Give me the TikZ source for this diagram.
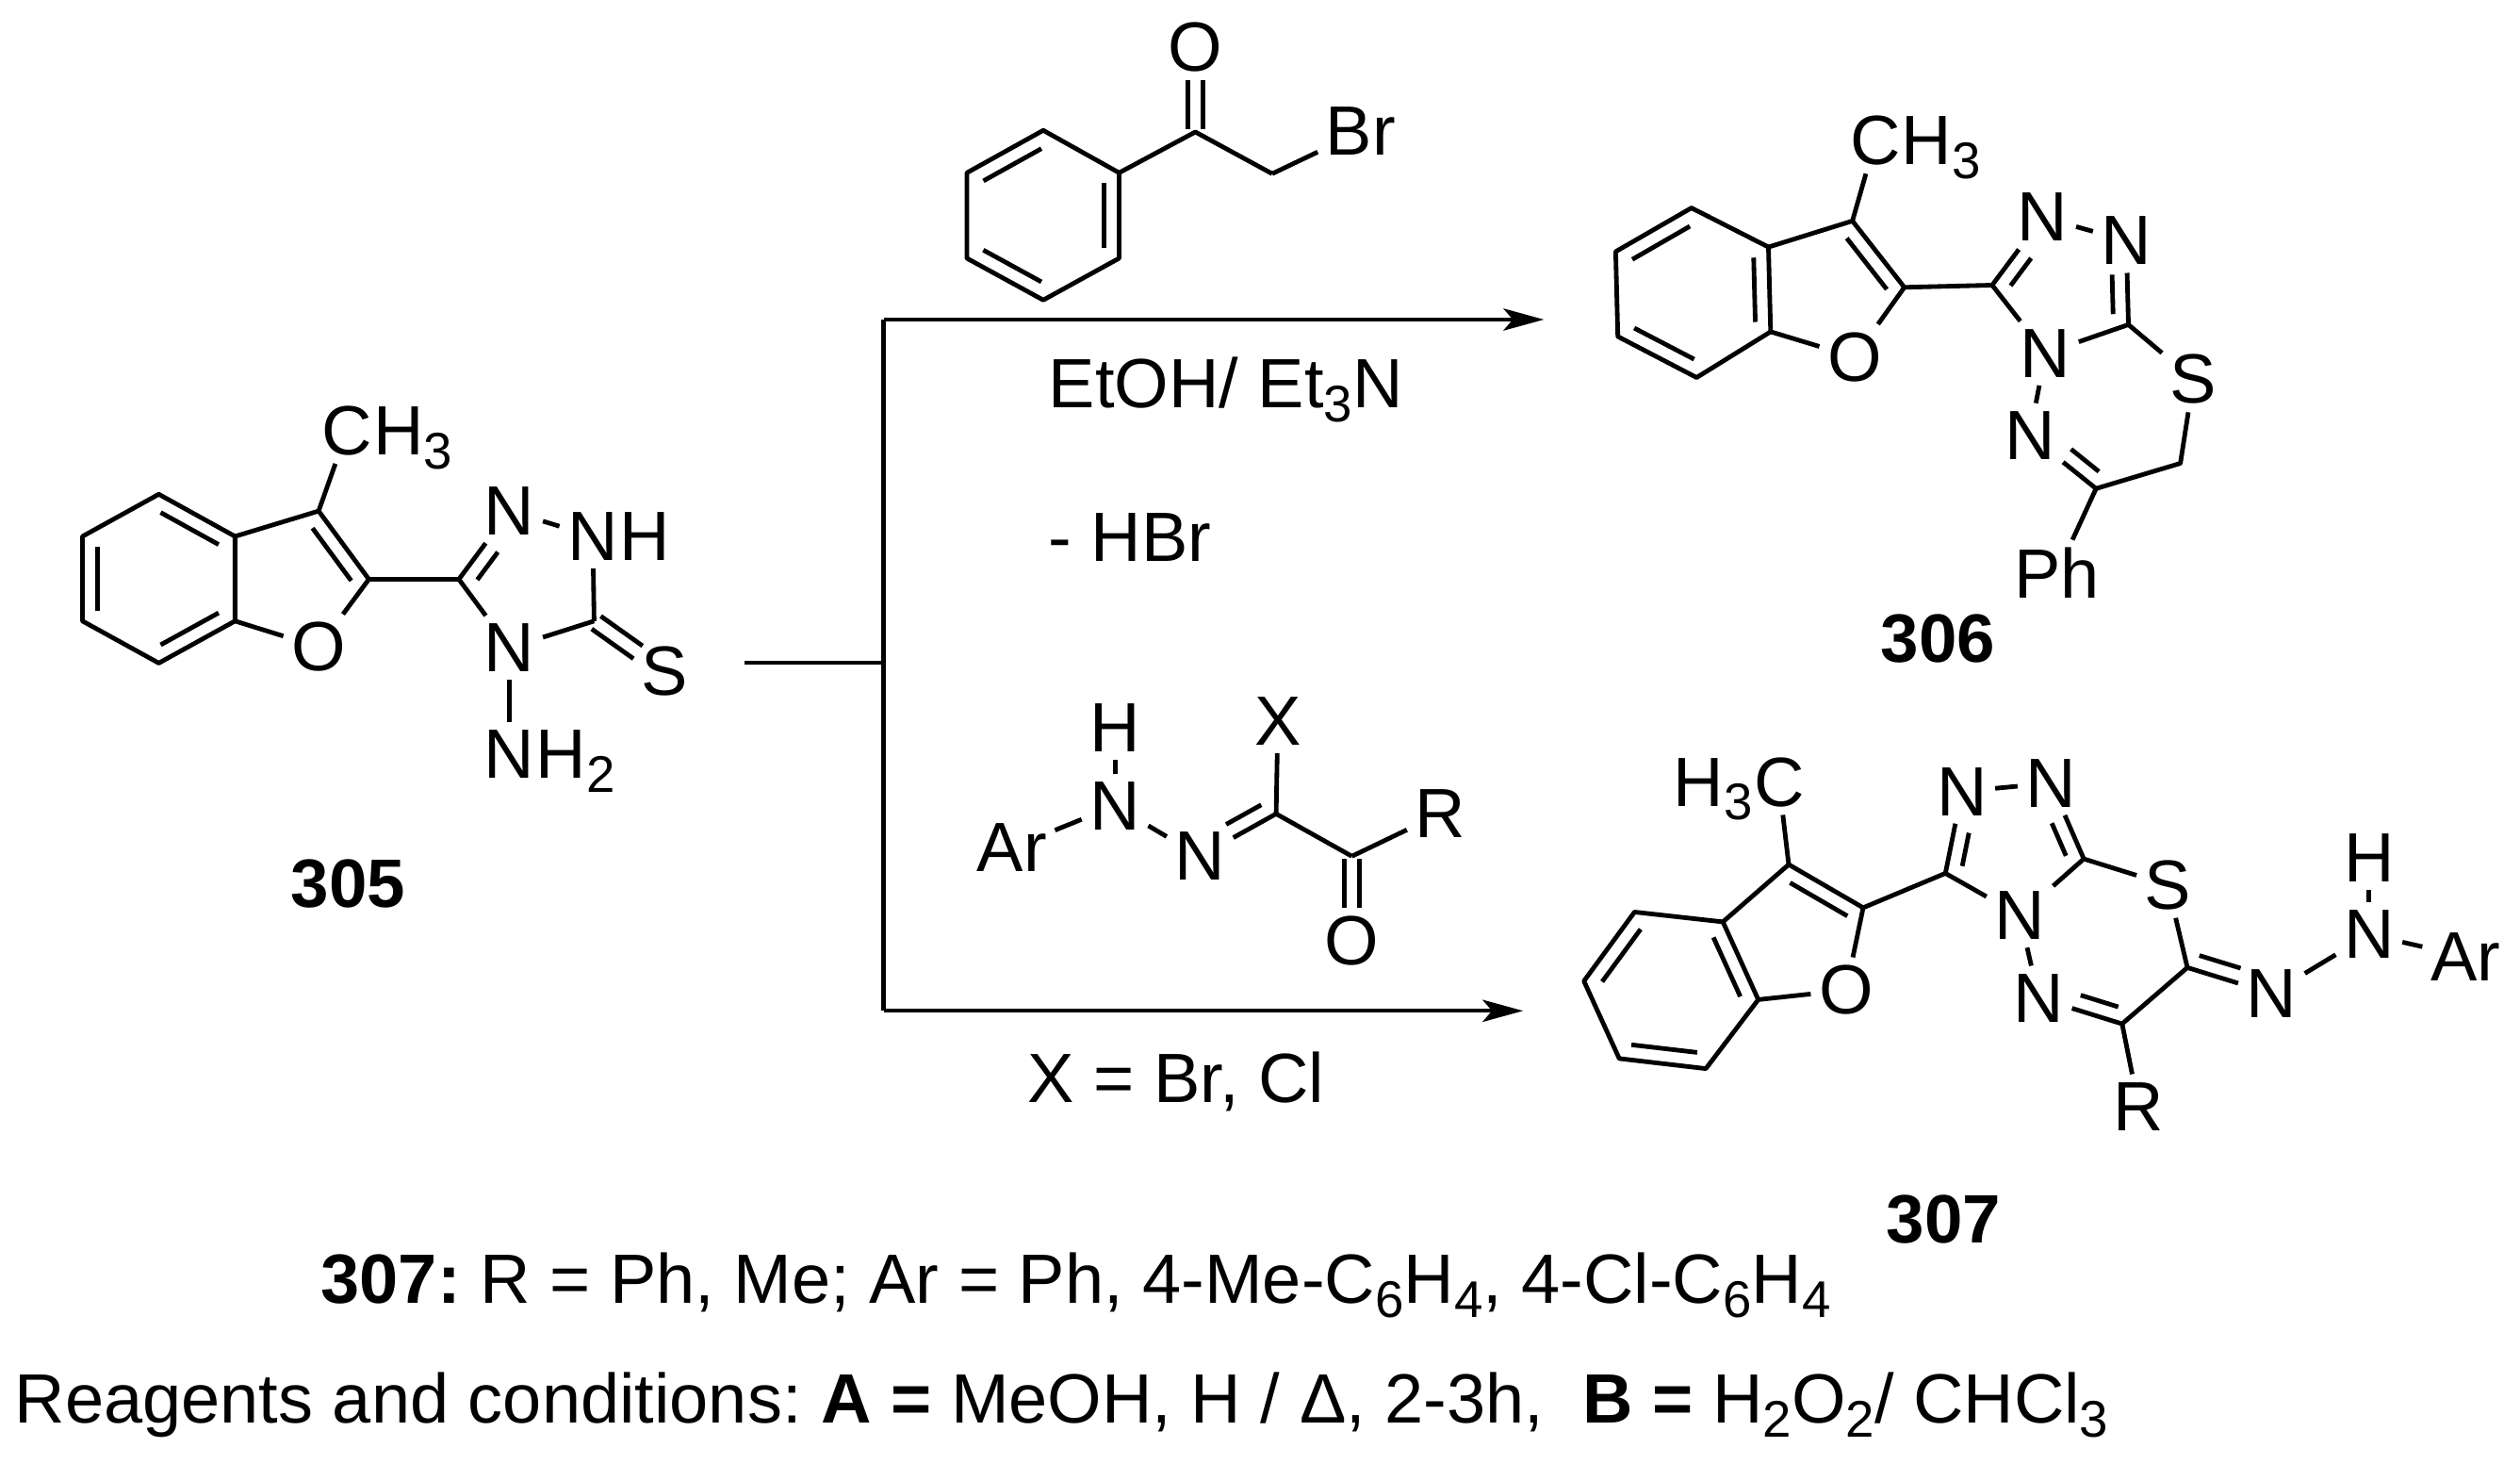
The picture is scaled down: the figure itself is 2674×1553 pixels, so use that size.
\documentclass[tikz,border=0pt]{standalone}
\usepackage{fontspec}
\setmainfont{Liberation Sans}
\usetikzlibrary{calc}
\usetikzlibrary {arrows.meta}
\tikzset{atom/.style={rectangle,draw=none,inner sep=2.4pt,font=\fontsize{22.2pt}{26pt}\selectfont}}
\tikzset{tail/.style={rectangle,draw=none,inner sep=0pt,anchor=base west,xshift=-2.4pt,font=\fontsize{22.2pt}{26pt}\selectfont}}
\tikzset{head/.style={rectangle,draw=none,inner sep=0pt,anchor=base east,xshift=2.4pt,font=\fontsize{22.2pt}{26pt}\selectfont}}
\tikzset{cmpd/.style={rectangle,draw=none,inner sep=0pt,font=\fontsize{21.8pt}{26pt}\selectfont\bfseries}}
\tikzset{txt/.style={rectangle,draw=none,inner sep=0pt,anchor=base west,font=\fontsize{22.2pt}{26pt}\selectfont\frenchspacing}}
\tikzset{bond/.style={line width=1.45pt,line join=round}}
\tikzset{rxn/.style={line width=1.3pt,-{Stealth[length=12.9pt,width=7pt,inset=3pt]}}}
\newcommand{\lowb}[1]{\raisebox{-0.2em}{\fontsize{16.4pt}{19pt}\selectfont #1}}
\newcommand{\inbond}[4]{\draw[bond] ($(#1)!#3!(#2)!4.8pt!90:(#2)$) -- ($(#1)!#4!(#2)!4.8pt!90:(#2)$);}
\newcommand{\symbond}[3]{%
  \draw[bond] ($(#1)!0.03!(#2)!2.5pt!90:(#2)$) -- ($(#1)!#3!(#2)!2.5pt!90:(#2)$);
  \draw[bond] ($(#1)!0.03!(#2)!-2.5pt!90:(#2)$) -- ($(#1)!#3!(#2)!-2.5pt!90:(#2)$);}
\begin{document}
\begin{tikzpicture}[x=0.3pt,y=-0.3pt]
\useasboundingbox (0,0) rectangle (2674,1553);

% 305
\coordinate (sA) at (168.5,524.3);
\coordinate (sB) at (249.4,569);
\coordinate (sC) at (249.4,658.8);
\coordinate (sD) at (168.5,703.4);
\coordinate (sE) at (87.5,658.8);
\coordinate (sF) at (87.5,569);
\coordinate (sG) at (338.1,542.1);
\coordinate (sH) at (391.4,614.5);
\coordinate (sTa) at (486.9,614.5);
\coordinate (sTb) at (630.4,658.8);
\node[atom] (sO) at (338.1,686.4) {O};
\node[atom] (sMe) at (368.2,457.1) {C};
\node[tail] (sMeH) at (sMe.base east) {H\lowb{3}};
\node[atom] (sNa) at (540.7,542.1) {N};
\node[atom] (sNb) at (629,569) {N};
\node[tail] (sNbH) at (sNb.base east) {H};
\node[atom] (sNc) at (540.7,687.2) {N};
\node[atom] (sNd) at (540.7,800.3) {N};
\node[tail] (sNdH) at (sNd.base east) {H\lowb{2}};
\node[atom] (sS) at (705.5,712.2) {S};
\node[cmpd] (sLabel) at (369.6,937.5) {305};
\draw[bond] (sA) -- (sB) -- (sC) -- (sD) -- (sE) -- (sF) -- cycle;
\inbond{sB}{sA}{0.12}{0.88}
\inbond{sD}{sC}{0.12}{0.88}
\inbond{sF}{sE}{0.12}{0.88}
\draw[bond] (sC) -- (sO);
\draw[bond] (sO) -- (sH);
\draw[bond] (sB) -- (sG) -- (sH) -- (sTa);
\inbond{sH}{sG}{0.11}{0.88}
\draw[bond] (sG) -- (sMe);
\draw[bond] (sTa) -- (sNa);
\inbond{sNa}{sTa}{0.47}{0.875}
\draw[bond] (sNa) -- (sNb);
\draw[bond] (sNb) -- (sTb);
\draw[bond] (sTb) -- (sNc);
\draw[bond] (sNc) -- (sTa);
\draw[bond] (sNc) -- (sNd);
\symbond{sTb}{sS}{0.62}

% phenacyl bromide
\coordinate (kA) at (1107,138.3);
\coordinate (kB) at (1187.5,183.3);
\coordinate (kC) at (1187.5,274);
\coordinate (kD) at (1107,318.3);
\coordinate (kE) at (1026,274);
\coordinate (kF) at (1026,183.3);
\coordinate (kG) at (1268.4,140);
\coordinate (kH) at (1349.9,184.3);
\node[atom] (kO) at (1268.4,50) {O};
\node[atom] (kBr) at (1443.9,139.5) {Br};
\draw[bond] (kA) -- (kB) -- (kC) -- (kD) -- (kE) -- (kF) -- cycle;
\inbond{kA}{kF}{0.12}{0.88}
\inbond{kE}{kD}{0.12}{0.88}
\inbond{kC}{kB}{0.12}{0.88}
\draw[bond] (kB) -- (kG) -- (kH);
\draw[bond] (kH) -- (kBr);
\symbond{kG}{kO}{0.61}

% 306
\coordinate (tA) at (1794.8,220.6);
\coordinate (tB) at (1876.5,262.1);
\coordinate (tC) at (1878.8,351.9);
\coordinate (tD) at (1800.3,400.5);
\coordinate (tE) at (1716.7,357);
\coordinate (tF) at (1714.4,266.9);
\coordinate (tG) at (1965.6,234.4);
\coordinate (tH) at (2020.7,304.8);
\coordinate (tTa) at (2113.9,302.5);
\coordinate (tTb) at (2258.5,344.4);
\coordinate (tCa) at (2224.1,518.3);
\coordinate (tCb) at (2313.6,491.5);
\node[atom] (tO) at (1967.9,378.8) {O};
\node[atom] (tMe) at (1989.9,149.4) {C};
\node[tail] (tMeH) at (tMe.base east) {H\lowb{3}};
\node[atom] (tNa) at (2167.6,230.5) {N};
\node[atom] (tNb) at (2256.2,255.4) {N};
\node[atom] (tNc) at (2170.4,374.8) {N};
\node[atom] (tNd) at (2153.8,461.8) {N};
\node[atom] (tS) at (2327.4,402.5) {S};
\node[atom] (tPh) at (2182.8,608.1) {Ph};
\node[cmpd] (tLabel) at (2056.5,677.3) {306};
\draw[bond] (tA) -- (tB) -- (tC) -- (tD) -- (tE) -- (tF) -- cycle;
\inbond{tA}{tF}{0.12}{0.88}
\inbond{tC}{tB}{0.12}{0.88}
\inbond{tE}{tD}{0.12}{0.88}
\draw[bond] (tC) -- (tO);
\draw[bond] (tO) -- (tH);
\draw[bond] (tB) -- (tG) -- (tH) -- (tTa);
\inbond{tH}{tG}{0.11}{0.88}
\draw[bond] (tG) -- (tMe);
\draw[bond] (tTa) -- (tNa);
\inbond{tNa}{tTa}{0.47}{0.875}
\draw[bond] (tNa) -- (tNb);
\draw[bond] (tNb) -- (tTb);
\inbond{tTb}{tNb}{0.13}{0.6}
\draw[bond] (tTb) -- (tNc);
\draw[bond] (tNc) -- (tTa);
\draw[bond] (tNc) -- (tNd);
\draw[bond] (tTb) -- (tS);
\draw[bond] (tS) -- (tCb) -- (tCa);
\draw[bond] (tCa) -- (tNd);
\inbond{tNd}{tCa}{0.48}{0.9}
\draw[bond] (tCa) -- (tPh);

% 307
\coordinate (uA) at (1734.4,967.5);
\coordinate (uB) at (1828.2,977.9);
\coordinate (uC) at (1865.7,1060.4);
\coordinate (uD) at (1810.1,1133.6);
\coordinate (uE) at (1718.2,1122.9);
\coordinate (uF) at (1680.7,1040.7);
\coordinate (uG) at (1898,917.1);
\coordinate (uH) at (1977,962.9);
\coordinate (uTa) at (2064.3,926.4);
\coordinate (uTb) at (2211.1,911.1);
\coordinate (uCa) at (2251.8,1086.1);
\coordinate (uCb) at (2321,1026.4);
\node[atom] (uO) at (1958.8,1050.4) {O};
\node[atom] (uMe) at (1887.7,829.6) {C};
\node[head] (uMeH) at (uMe.base west) {H\lowb{3}};
\node[atom] (uNa) at (2081.7,839.6) {N};
\node[atom] (uNb) at (2176.2,830.7) {N};
\node[atom] (uNc) at (2143.2,971.1) {N};
\node[atom] (uNd) at (2163.2,1058.6) {N};
\node[atom] (uS) at (2300.4,938.9) {S};
\node[atom] (uR) at (2269.3,1173.6) {R};
\node[atom] (uNe) at (2410.3,1053.9) {N};
\node[atom] (uNf) at (2513.8,991.4) {N};
\node[atom] (uH1) at (2513.8,910) {H};
\node[atom] (uAr) at (2616,1014.6) {Ar};
\node[cmpd] (uLabel) at (2062.3,1293.2) {307};
\draw[bond] (uA) -- (uB) -- (uC) -- (uD) -- (uE) -- (uF) -- cycle;
\inbond{uA}{uF}{0.12}{0.88}
\inbond{uC}{uB}{0.12}{0.88}
\inbond{uE}{uD}{0.12}{0.88}
\draw[bond] (uC) -- (uO);
\draw[bond] (uO) -- (uH);
\draw[bond] (uB) -- (uG) -- (uH) -- (uTa);
\inbond{uH}{uG}{0.11}{0.88}
\draw[bond] (uG) -- (uMe);
\draw[bond] (uTa) -- (uNa);
\inbond{uNa}{uTa}{0.47}{0.875}
\draw[bond] (uNa) -- (uNb);
\draw[bond] (uNb) -- (uTb);
\inbond{uTb}{uNb}{0.12}{0.55}
\draw[bond] (uTb) -- (uNc);
\draw[bond] (uNc) -- (uTa);
\draw[bond] (uNc) -- (uNd);
\draw[bond] (uTb) -- (uS);
\draw[bond] (uS) -- (uCb) -- (uCa);
\draw[bond] (uCa) -- (uNd);
\inbond{uNd}{uCa}{0.45}{0.9}
\draw[bond] (uCa) -- (uR);
\draw[bond] (uCb) -- (uNe);
\inbond{uCb}{uNe}{0.09}{0.58}
\draw[bond] (uNe) -- (uNf);
\draw[bond] (uNf) -- (uH1);
\draw[bond] (uNf) -- (uAr);

% hydrazonoyl halide
\coordinate (hC) at (1354.1,863.3);
\coordinate (hD) at (1434.5,908.3);
\node[atom] (hAr) at (1073.8,899) {Ar};
\node[atom] (hNa) at (1183.1,855) {N};
\node[atom] (hH) at (1183.1,772.3) {H};
\node[atom] (hNb) at (1273.3,908.3) {N};
\node[atom] (hX) at (1355.9,765) {X};
\node[atom] (hR) at (1528.2,863.3) {R};
\node[atom] (hO) at (1434.5,998.3) {O};
\draw[bond] (hAr) -- (hNa);
\draw[bond] (hNa) -- (hH);
\draw[bond] (hNa) -- (hNb);
\draw[bond] (hNb) -- (hC);
\inbond{hNb}{hC}{0.44}{0.9}
\draw[bond] (hC) -- (hX);
\draw[bond] (hC) -- (hD);
\draw[bond] (hD) -- (hR);
\symbond{hD}{hO}{0.61}

% reaction lines
\coordinate (stub) at (790,703.3);
\coordinate (fork) at (937.5,703.3);
\coordinate (forkTop) at (937.5,339);
\coordinate (forkBot) at (937.5,1072.3);
\coordinate (tipTop) at (1638.3,339);
\coordinate (tipBot) at (1616.2,1072.3);
\draw[line width=1.3pt] (stub) -- (fork);
\draw[line width=1.3pt] (forkTop) -- (forkBot);
\draw[rxn] (forkTop) -- (tipTop);
\draw[rxn] (forkBot) -- (tipBot);

\node[txt] (solvent) at (1112,432.7) {EtOH/ Et\lowb{3}N};
\node[txt] (loss) at (1112,596) {- HBr};
\node[txt] (halide) at (1090,1169.3) {X = Br, Cl};
\node[txt] (scope) at (340,1382.3) {\textbf{307:} R = Ph, Me; Ar = Ph, 4-Me-C\lowb{6}H\lowb{4}, 4-Cl-C\lowb{6}H\lowb{4}};
\node[txt] (cond) at (15,1509.3) {Reagents and conditions: \textbf{A =} MeOH, H / Δ, 2-3h,\ \ \textbf{B =} H\lowb{2}O\lowb{2}/ CHCl\lowb{3}};
\end{tikzpicture}
\end{document}
